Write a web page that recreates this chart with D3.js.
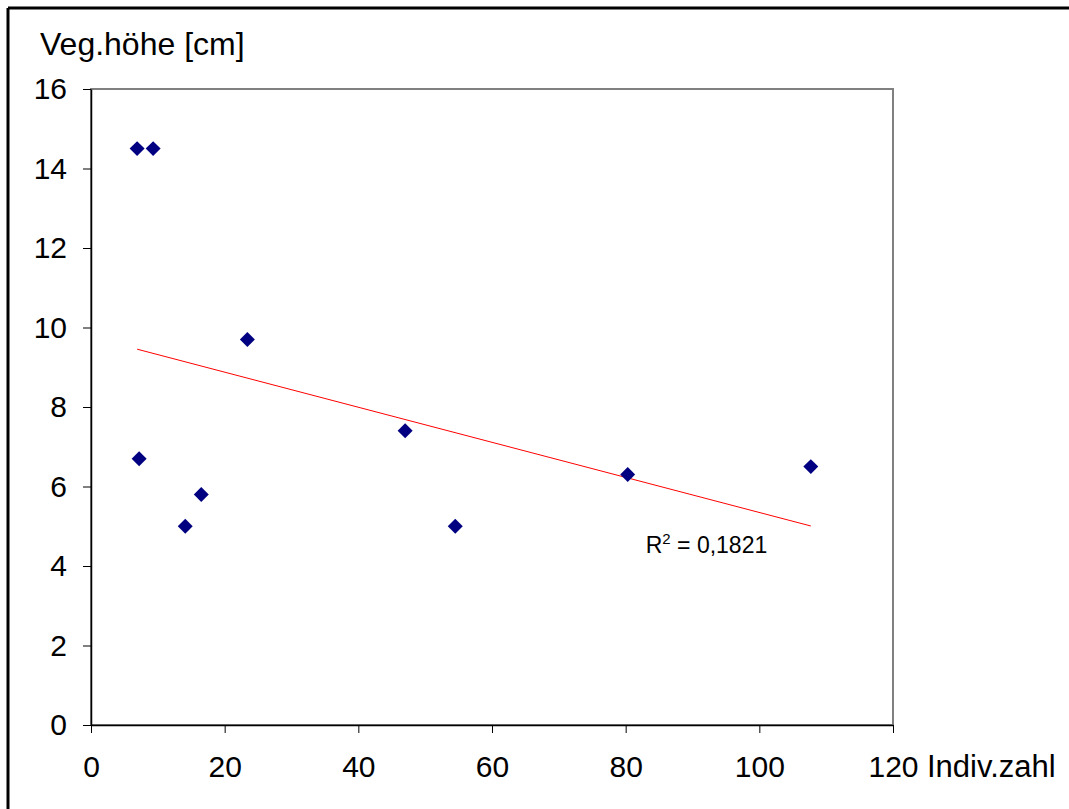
<html>
<body style="margin:0;background:#fff">
<svg width="1069" height="809"></svg>
</body>
<style>
  text { font-family: "Liberation Sans", Arial, sans-serif; fill: #000; }
  .axis path, .axis line { stroke: #000; }
  .axis text { font-size: 30px; font-family: "Liberation Sans", Arial, sans-serif; }
</style>
<script src="https://d3js.org/d3.v7.min.js"></script>
<script>
// Indiv.zahl (x) vs. Veg.höhe (y)
var indivZahl = [6.9, 9.3, 7.2, 14.1, 16.5, 23.4, 47.0, 54.5, 80.3, 107.7];
var vegHoehe  = [14.5, 14.5, 6.7, 5.0, 5.8, 9.7, 7.4, 5.0, 6.3, 6.5];
var xTicks = [0, 20, 40, 60, 80, 100, 120];
var yTicks = [0, 2, 4, 6, 8, 10, 12, 14, 16];
var r2Label = "0,1821";

var svg = d3.select("svg");

// outer chart border (top and left visible)
svg.append("line").attr("x1", 8).attr("x2", 1069).attr("y1", 8).attr("y2", 8)
  .attr("stroke", "#000").attr("stroke-width", 3);
svg.append("line").attr("x1", 8).attr("x2", 8).attr("y1", 8).attr("y2", 809)
  .attr("stroke", "#000").attr("stroke-width", 3);

var margin = {top: 89, left: 91, right: 176, bottom: 84},
    width = 1069 - margin.left - margin.right,
    height = 809 - margin.top - margin.bottom;

var g = svg.append("g").attr("transform", "translate(" + margin.left + "," + margin.top + ")");

var x = d3.scaleLinear().domain([0, 120]).range([0, width]);
var y = d3.scaleLinear().domain([0, 16]).range([height, 0]);

// plot area frame (gray)
g.append("rect").attr("x", 0).attr("y", 0).attr("width", width).attr("height", height)
  .attr("fill", "none").attr("stroke", "#808080").attr("stroke-width", 2);

g.append("g").attr("class", "axis")
  .attr("transform", "translate(0," + height + ")")
  .call(d3.axisBottom(x).tickValues(xTicks).tickSize(8).tickPadding(23).tickSizeOuter(0));

g.append("g").attr("class", "axis")
  .call(d3.axisLeft(y).tickValues(yTicks).tickSize(8).tickPadding(16).tickSizeOuter(0));

g.selectAll(".axis path").attr("stroke-width", 1.5);
g.selectAll(".axis").attr("font-size", 30).attr("font-family", "Liberation Sans, Arial, sans-serif");

// regression line
var mx = d3.mean(indivZahl), my = d3.mean(vegHoehe);
var sxy = d3.sum(indivZahl, function (v, i) { return (v - mx) * (vegHoehe[i] - my); });
var sxx = d3.sum(indivZahl, function (v) { return (v - mx) * (v - mx); });
var slope = sxy / sxx, icpt = my - slope * mx;
var xr = d3.extent(indivZahl);
g.append("line")
  .attr("x1", x(xr[0])).attr("y1", y(icpt + slope * xr[0]))
  .attr("x2", x(xr[1])).attr("y2", y(icpt + slope * xr[1]))
  .attr("stroke", "#ff0000").attr("stroke-width", 1);

// points
var diamond = d3.symbol().type(d3.symbolSquare).size(112);
g.selectAll(".pt").data(indivZahl).enter().append("path")
  .attr("class", "pt")
  .attr("d", diamond)
  .attr("transform", function (d, i) { return "translate(" + x(d) + "," + y(vegHoehe[i]) + ") rotate(45)"; })
  .attr("fill", "#000080");

// R² label
var r2 = g.append("text").attr("x", x(83)).attr("y", y(4.33)).attr("font-size", 23);
r2.append("tspan").text("R");
r2.append("tspan").attr("font-size", 15).attr("dy", -9).text("2");
r2.append("tspan").attr("dy", 9).text(" = " + r2Label);

// axis titles
svg.append("text").attr("x", 40).attr("y", 55).attr("font-size", 32).text("Veg.höhe [cm]");
svg.append("text").attr("x", 927).attr("y", 777).attr("font-size", 31).text("Indiv.zahl");
</script>
</html>
